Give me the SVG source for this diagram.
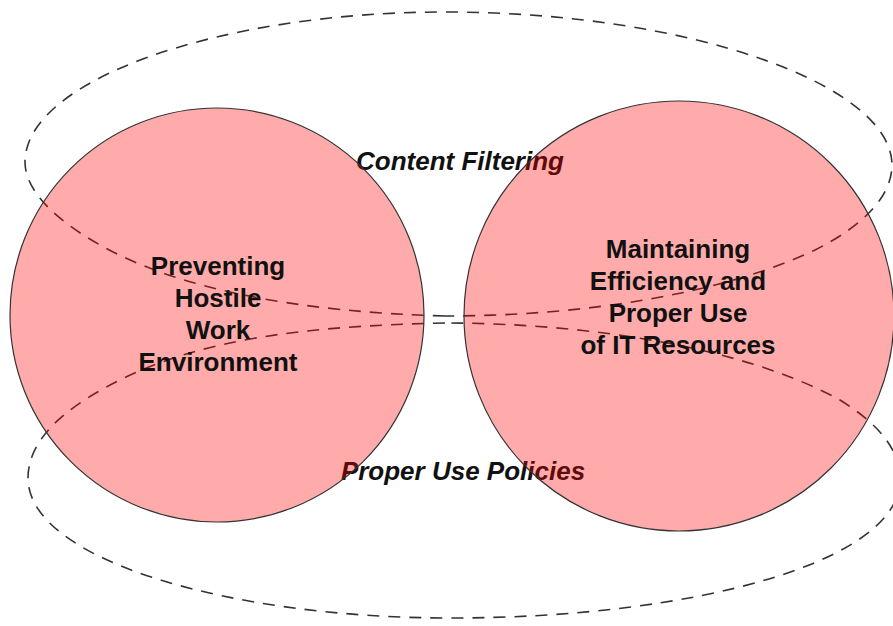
<svg xmlns="http://www.w3.org/2000/svg" width="893" height="626" viewBox="0 0 893 626">
  <style>
    .region { fill: none; stroke: #333; stroke-width: 1.6; stroke-dasharray: 12 9; }
    .region-label { font-family: "Liberation Sans", Arial, sans-serif; font-size: 26px; font-weight: bold; font-style: italic; fill: #111; text-anchor: middle; }
    .node-shape { fill: #ff0000; fill-opacity: 0.33; stroke: #333; stroke-width: 1.2; }
    .node-label { font-family: "Liberation Sans", Arial, sans-serif; font-size: 26px; font-weight: bold; fill: #111; text-anchor: middle; }
  </style>

  <rect width="893" height="626" fill="#ffffff"/>

  <!-- dashed overlapping regions with their captions -->
  <g id="regions">
    <g id="content-filtering">
      <path class="region" d="M 445,316 C 300,312 180,290 100,245 C 45,214 25,185 25,162 C 25,80 220,12 445,12 C 690,12 892,85 892,165 C 892,195 865,225 815,250 C 720,295 580,316 445,316 Z"/>
      <text class="region-label" x="460" y="170">Content Filtering</text>
    </g>
    <g id="proper-use-policies">
      <path class="region" d="M 445,323 C 300,326 200,340 120,380 C 55,412 28,445 28,478 C 28,560 230,618 450,618 C 700,618 900,560 900,480 C 900,450 880,425 840,400 C 740,345 580,323 445,323 Z"/>
      <text class="region-label" x="463" y="480">Proper Use Policies</text>
    </g>
  </g>

  <!-- goal nodes -->
  <g id="node-hostile-work">
    <circle class="node-shape" cx="217" cy="315" r="207"/>
    <text class="node-label" x="218" y="275">Preventing</text>
    <text class="node-label" x="218" y="307">Hostile</text>
    <text class="node-label" x="218" y="339">Work</text>
    <text class="node-label" x="218" y="371">Environment</text>
  </g>
  <g id="node-efficiency">
    <circle class="node-shape" cx="679" cy="316" r="215"/>
    <text class="node-label" x="678" y="258">Maintaining</text>
    <text class="node-label" x="678" y="290">Efficiency and</text>
    <text class="node-label" x="678" y="322">Proper Use</text>
    <text class="node-label" x="678" y="354">of IT Resources</text>
  </g>
</svg>
